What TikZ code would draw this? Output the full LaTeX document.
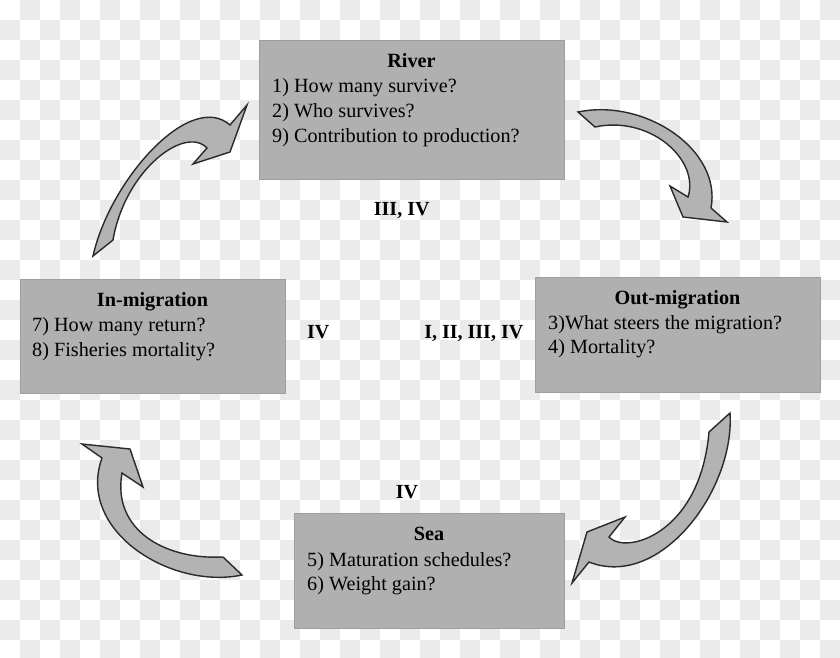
\documentclass[tikz,border=0pt]{standalone}
\usepackage{fontspec}
\setmainfont{Liberation Serif}
\definecolor{chk}{HTML}{EBEBEB}
\definecolor{boxfill}{HTML}{B0B0B0}
\definecolor{arrfill}{HTML}{B3B3B3}
\definecolor{arredge}{HTML}{2A2A2A}
\begin{document}
\begin{tikzpicture}[x=1pt,y=-1pt,
  box/.style={rectangle,fill=boxfill,draw=boxfill!90!black,line width=0.6pt,inner sep=0pt,anchor=north west},
  txt/.style={inner sep=0pt,font=\fontsize{20.2}{24}\selectfont},
  ttl/.style={txt,font=\fontsize{20.2}{24}\selectfont\bfseries,anchor=base},
  qline/.style={txt,anchor=base west},
  lab/.style={inner sep=0pt,font=\fontsize{20}{24}\selectfont\bfseries,anchor=base},
  blockarrow/.style={fill=arrfill,draw=arredge,line width=1.4pt,line join=miter}]
\useasboundingbox (0,0) rectangle (840,657);
\begin{scope}
\clip (0,0) rectangle (840,657);
\fill[white] (0,0) rectangle (840,657);
\foreach \j in {0,2,...,32} \foreach \i in {1,3,...,41} \fill[chk] (\i*20,\j*20) rectangle ++(20,20);
\foreach \j in {1,3,...,31} \foreach \i in {0,2,...,40} \fill[chk] (\i*20,\j*20) rectangle ++(20,20);
\end{scope}

% boxes
\node[box,minimum width=305pt,minimum height=139pt] (river) at (259,40) {};
\node[box,minimum width=265pt,minimum height=114pt] (inmig) at (20,279) {};
\node[box,minimum width=285pt,minimum height=115pt] (outmig) at (535,277) {};
\node[box,minimum width=270pt,minimum height=115pt] (sea) at (294,513) {};

% River text
\node[ttl] (rivert) at (411.5,67) {River};
\node[qline] (r1) at (272,92.5) {1) How many survive?};
\node[qline] (r2) at (272,117.5) {2) Who survives?};
\node[qline] (r3) at (272,142.5) {9) Contribution to production?};

% In-migration text
\node[ttl] (inmigt) at (152.5,306) {In-migration};
\node[qline] (i1) at (32,331.5) {7) How many return?};
\node[qline] (i2) at (32,356) {8) Fisheries mortality?};

% Out-migration text
\node[ttl] (outmigt) at (677.5,304) {Out-migration};
\node[qline] (o1) at (548,329) {3)What steers the migration?};
\node[qline] (o2) at (548,353.5) {4) Mortality?};

% Sea text
\node[ttl] (seat) at (429,540) {Sea};
\node[qline] (s1) at (307,566) {5) Maturation schedules?};
\node[qline] (s2) at (307,590) {6) Weight gain?};

% labels
\node[lab] (l1) at (401.7,215) {III, IV};
\node[lab] (l2) at (318.3,338.3) {IV};
\node[lab] (l3) at (473.8,338.3) {I, II, III, IV};
\node[lab] (l4) at (407,498.3) {IV};

% arrow River -> Out-migration
\filldraw[blockarrow] (578,112) .. controls (645,98) and (722,150) .. (711,208)
  -- (727,222) -- (683,217) -- (670,186) -- (688,197)
  .. controls (700,160) and (650,115) .. (595,127) -- cycle;

% arrow Out-migration -> Sea
\filldraw[blockarrow] (730,413) .. controls (735,490) and (660,590) .. (589,562)
  -- (572,583) -- (587,532) -- (625,517) -- (609,537)
  .. controls (625,555) and (700,535) .. (709,432) -- cycle;

% arrow Sea -> In-migration
\filldraw[blockarrow] (242,575) .. controls (170,590) and (76,530) .. (102,458)
  -- (82,444) -- (130,449) -- (143,487) -- (122,473)
  .. controls (112,530) and (165,560) .. (223,557) -- cycle;

% arrow In-migration -> River
\filldraw[blockarrow] (93,256) .. controls (110,180) and (190,90) .. (230,125)
  -- (247,105) -- (230,152) -- (193,164) -- (207,148)
  .. controls (185,125) and (125,170) .. (113,240) -- cycle;
\end{tikzpicture}
\end{document}
